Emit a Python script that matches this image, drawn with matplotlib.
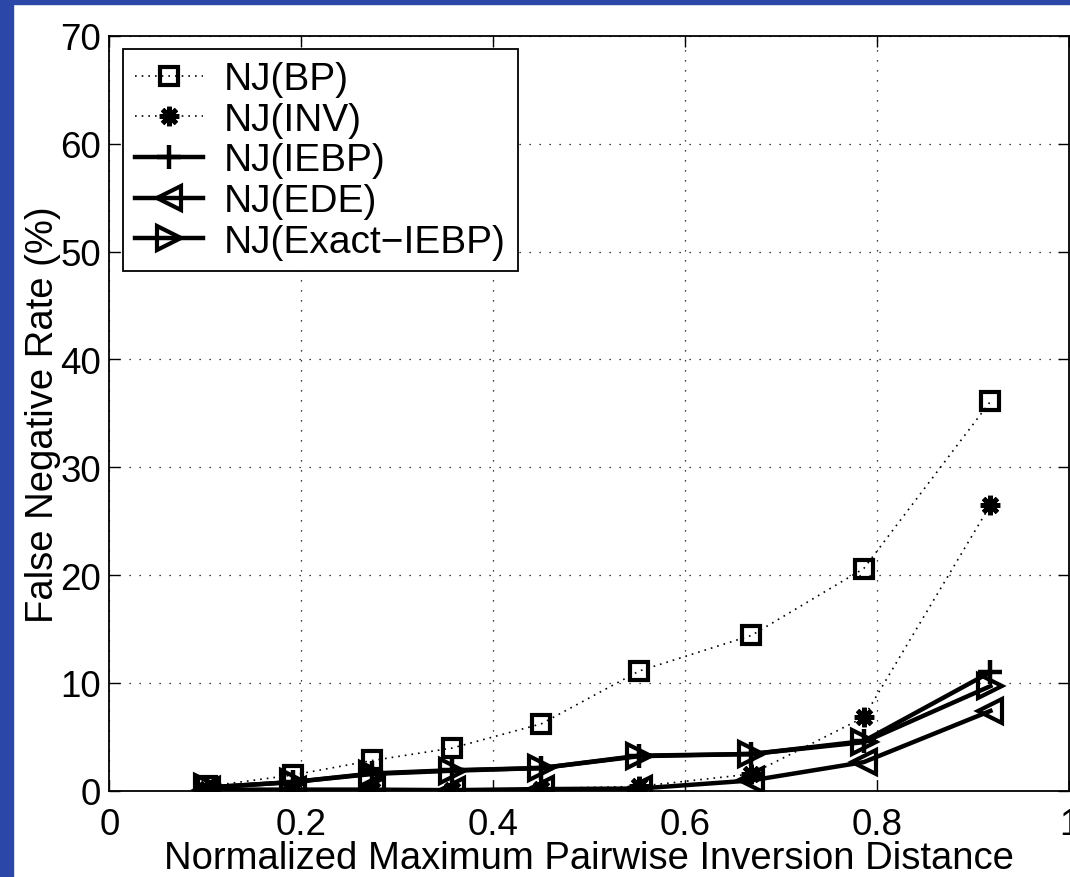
import matplotlib.pyplot as plt
from matplotlib.patches import Rectangle

plt.rcParams['font.family'] = ['Liberation Sans', 'DejaVu Sans']

# Data
x = [0.102, 0.191, 0.274, 0.357, 0.45, 0.552, 0.669, 0.786, 0.918]
nj_bp = [0.4, 1.45, 2.8, 3.95, 6.2, 11.1, 14.4, 20.6, 36.1]
nj_inv = [0.2, 0.1, 0.1, 0.1, 0.2, 0.4, 1.55, 6.8, 26.5]
nj_iebp = [0.3, 0.8, 1.6, 1.9, 2.1, 3.2, 3.4, 4.6, 11.0]
nj_ede = [0.1, 0.1, 0.1, 0.05, 0.15, 0.2, 0.95, 2.65, 7.4]
nj_exact = [0.3, 0.8, 1.55, 1.85, 2.1, 3.25, 3.4, 4.5, 9.7]

fig = plt.figure(figsize=(10.7, 8.78), dpi=100)
ax = fig.add_axes([0.1022, 0.0983, 0.897, 0.8597])

# blue slide border
blue = '#2b47a8'
fig.patches.append(Rectangle((0, 0), 13 / 1070, 1, transform=fig.transFigure, color=blue, zorder=-5))
fig.patches.append(Rectangle((0, 1 - 5 / 878), 1, 5 / 878, transform=fig.transFigure, color=blue, zorder=-5))

ax.plot(x, nj_bp, color='black', linestyle=(0, (1, 3)), linewidth=1.2, marker='s',
        markersize=13, markerfacecolor='none', markeredgewidth=3, label='NJ(BP)')
ax.plot(x, nj_inv, color='black', linestyle=(0, (1, 3)), linewidth=1.2, marker=(8, 2, 0),
        markersize=14, markeredgewidth=3.5, label='NJ(INV)')
ax.plot(x, nj_iebp, color='black', linewidth=3.2, marker='+', markersize=17,
        markeredgewidth=3.2, label='NJ(IEBP)')
ax.plot(x, nj_ede, color='black', linewidth=3.2, marker='<', markersize=17,
        markerfacecolor='none', markeredgewidth=3, label='NJ(EDE)')
ax.plot(x, nj_exact, color='black', linewidth=3.2, marker='>', markersize=17,
        markerfacecolor='none', markeredgewidth=3, label='NJ(Exact\u2212IEBP)')

ax.set_xlim(0, 1)
ax.set_ylim(0, 70)
ax.set_xticks([0, 0.2, 0.4, 0.6, 0.8, 1])
ax.set_xticklabels(['0', '0.2', '0.4', '0.6', '0.8', '1'])
ax.set_yticks(range(0, 71, 10))
ax.grid(True, color='black', linestyle=(0, (1, 7)), linewidth=0.9)
ax.tick_params(direction='in', length=8, width=1, labelsize=26.5, top=True, right=True)
ax.tick_params(axis='x', pad=12)
ax.tick_params(axis='y', pad=6)
for s in ax.spines.values():
    s.set_linewidth(1.3)

ax.set_xlabel('Normalized Maximum Pairwise Inversion Distance', fontsize=27.5, labelpad=-2)
ax.set_ylabel('False Negative Rate (%)', fontsize=27.5)
ax.yaxis.set_label_coords(-0.05, 0.5)

leg = ax.legend(loc='upper left', fontsize=28, handlelength=1.75, labelspacing=0.12,
                borderaxespad=0.35, fancybox=False, framealpha=1, edgecolor='black',
                handletextpad=0.55, borderpad=0.3, numpoints=1)
leg.get_frame().set_linewidth(1.3)

fig.savefig('out.png', dpi=100)
